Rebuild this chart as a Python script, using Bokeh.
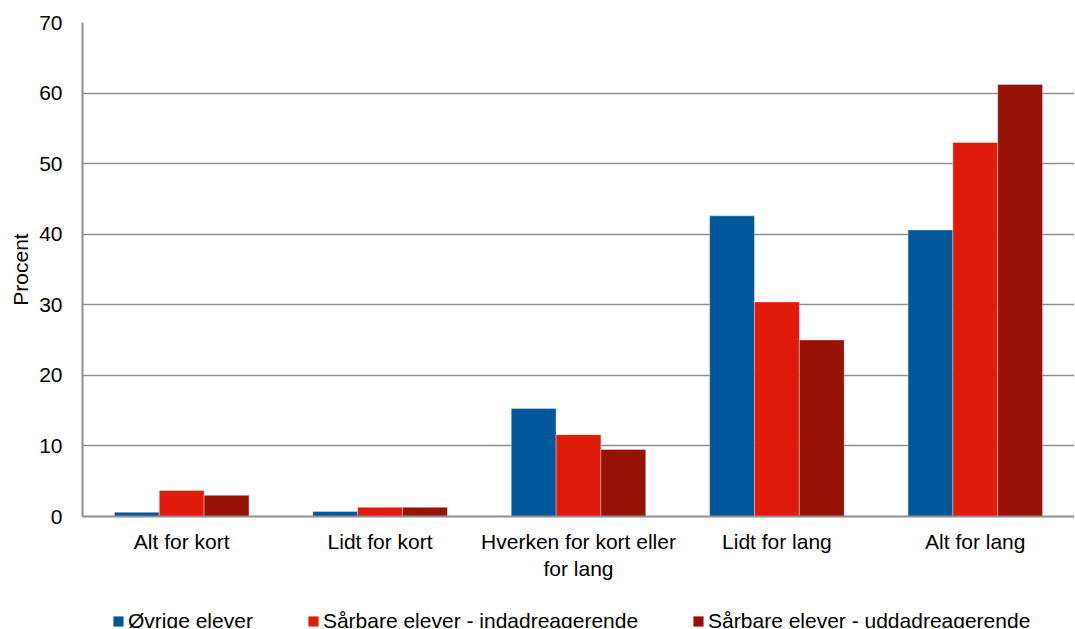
from bokeh.plotting import figure
from bokeh.layouts import column
from bokeh.models import ColumnDataSource, FactorRange, Legend, LegendItem, Range1d
from bokeh.transform import dodge
from bokeh.embed import file_html
from bokeh.resources import INLINE

categories = ["Alt for kort", "Lidt for kort", "Hverken for kort eller\nfor lang", "Lidt for lang", "Alt for lang"]
series_names = ["Øvrige elever", "Sårbare elever - indadreagerende", "Sårbare elever - uddadreagerende"]
ovrige = [0.6, 0.7, 15.3, 42.6, 40.6]
indad = [3.7, 1.3, 11.6, 30.4, 53.0]
uddad = [3.0, 1.3, 9.5, 25.0, 61.2]
y_ticks = [0, 10, 20, 30, 40, 50, 60, 70]

colors = ["#00589A", "#E01B0A", "#961106"]
FONT = "Liberation Sans"
FS = "21px"

src = ColumnDataSource(dict(cat=categories, a=ovrige, b=indad, c=uddad))

p = figure(x_range=FactorRange(*categories, range_padding=0), y_range=Range1d(0, 70),
           width=1074, height=590, output_backend="svg", toolbar_location=None,
           min_border_left=82, min_border_right=0, min_border_top=22, min_border_bottom=74)
p.outline_line_color = None

bw = 0.226
for key, off, col in zip(["a", "b", "c"], [-bw, 0, bw], colors):
    p.vbar(x=dodge("cat", off, range=p.x_range), top=key, width=bw, source=src,
           fill_color=col, line_color="white", line_alpha=0.35, line_width=1)

p.xgrid.grid_line_color = None
p.ygrid.grid_line_color = "#8e8e8e"
p.ygrid.grid_line_width = 1.6
p.yaxis.ticker = y_ticks

for ax in (p.xaxis[0], p.yaxis[0]):
    ax.axis_line_color = "#8e8e8e"
    ax.axis_line_width = 2
    ax.major_tick_line_color = None
    ax.minor_tick_line_color = None
    ax.major_label_text_font = FONT
    ax.major_label_text_font_size = FS
    ax.major_label_text_color = "black"

p.yaxis.major_label_standoff = 14
p.xaxis.major_label_standoff = 7
p.yaxis.axis_label = "Procent"
p.yaxis.axis_label_text_font = FONT
p.yaxis.axis_label_text_font_size = FS
p.yaxis.axis_label_text_font_style = "normal"
p.yaxis.axis_label_text_color = "black"
p.yaxis.axis_label_standoff = 4

# legend strip below the chart (zero-size swatch glyphs carry the legend styling)
lg = figure(width=1074, height=38, output_backend="svg", toolbar_location=None,
            x_range=Range1d(0, 1), y_range=Range1d(0, 1),
            x_axis_location=None, y_axis_location=None,
            min_border_left=0, min_border_right=0, min_border_top=0, min_border_bottom=0)
lg.outline_line_color = None
lg.xgrid.grid_line_color = None
lg.ygrid.grid_line_color = None
items = []
for name, key, col in zip(series_names, ["a", "b", "c"], colors):
    r = lg.vbar(x=key, top=key, bottom=key, width=0, source=src,
                fill_color=col, line_color=col, line_width=0.5)
    items.append(LegendItem(label=name, renderers=[r]))

legend = Legend(items=items, orientation="horizontal", location=(30, -5),
                label_text_font=FONT, label_text_font_size=FS, label_text_color="black",
                glyph_width=12, glyph_height=12, label_standoff=4, spacing=54,
                padding=0, margin=0, border_line_color=None, background_fill_alpha=0)
lg.add_layout(legend)

layout = column(p, lg, spacing=0)
open("out.html", "w").write(file_html(layout, INLINE))
